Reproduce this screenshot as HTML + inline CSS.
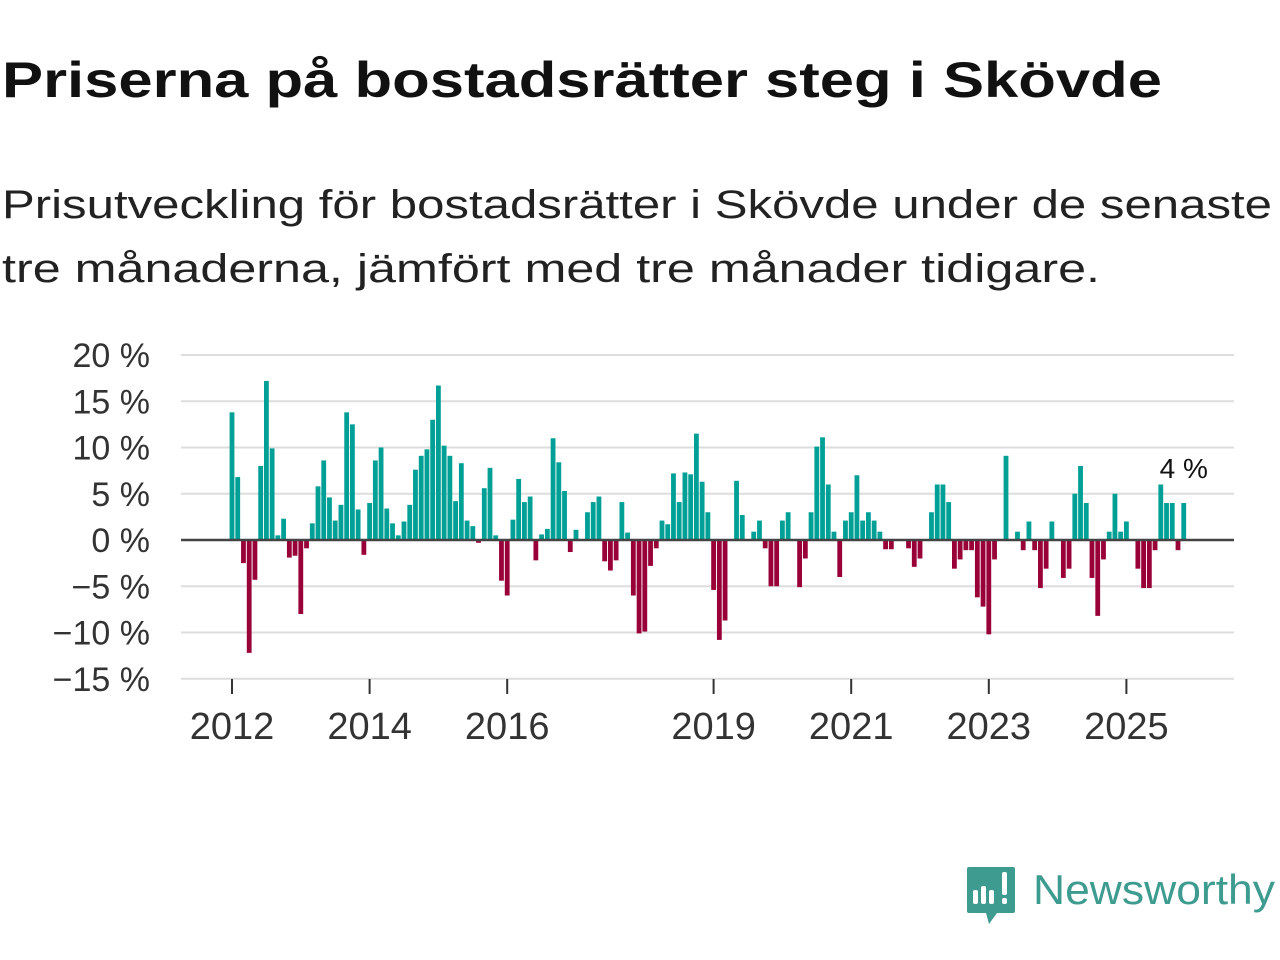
<!DOCTYPE html>
<html><head><meta charset="utf-8"><style>
html,body{margin:0;padding:0;background:#fff;}
svg{display:block;font-family:"Liberation Sans","DejaVu Sans",sans-serif;}
</style></head><body>
<svg id="chart" width="1280" height="960" viewBox="0 0 1280 960">
<text x="2" y="97" font-size="50" font-weight="bold" fill="#111" textLength="1160" lengthAdjust="spacingAndGlyphs">Priserna på bostadsrätter steg i Skövde</text>
<text x="2" y="218" font-size="40" fill="#222" textLength="1270" lengthAdjust="spacingAndGlyphs">Prisutveckling för bostadsrätter i Skövde under de senaste</text>
<text x="2" y="282" font-size="40" fill="#222" textLength="1098" lengthAdjust="spacingAndGlyphs">tre månaderna, jämfört med tre månader tidigare.</text>
<g id="grid"></g>
<g id="yaxis"></g>
<g id="xaxis"></g>
<g id="bars"></g>
<line id="zero" stroke="#444" stroke-width="2.5"></line>
<text id="lastlabel" font-size="28" fill="#111" text-anchor="middle"></text>
<g>
<path d="M969 867 h44 a2 2 0 0 1 2 2 v42 a2 2 0 0 1 -2 2 h-16 l-8 11 l-3 -11 h-17 a2 2 0 0 1 -2 -2 v-42 a2 2 0 0 1 2 -2z" fill="#3d9b8f"/>
<rect x="973" y="890" width="5" height="14" rx="2" fill="#fff"/>
<rect x="981" y="886" width="5" height="18" rx="2" fill="#fff"/>
<rect x="989" y="890" width="5" height="14" rx="2" fill="#fff"/>
<rect x="1002" y="872" width="5" height="23" rx="2" fill="#fff"/>
<rect x="1002" y="898" width="5" height="6" rx="2" fill="#fff"/>
<text x="1033" y="904" font-size="42" fill="#3d9b8f" textLength="242" lengthAdjust="spacingAndGlyphs">Newsworthy</text>
</g>
</svg>
<script>
const values = [13.8,6.8,-2.5,-12.2,-4.3,8.0,17.2,9.9,0.5,2.3,-1.9,-1.7,-8.0,-0.9,1.8,5.8,8.6,4.6,2.1,3.8,13.8,12.5,3.3,-1.6,4.0,8.6,10.0,3.4,1.8,0.5,2.0,3.8,7.6,9.1,9.8,13.0,16.7,10.2,9.1,4.2,8.3,2.1,1.5,-0.3,5.6,7.8,0.5,-4.4,-6.0,2.2,6.6,4.1,4.7,-2.2,0.6,1.2,11.0,8.4,5.3,-1.3,1.1,0,3.0,4.1,4.7,-2.3,-3.3,-2.2,4.1,0.8,-6.0,-10.1,-9.9,-2.8,-0.9,2.1,1.7,7.2,4.1,7.3,7.1,11.5,6.3,3.0,-5.4,-10.8,-8.7,0,6.4,2.7,0,0.9,2.1,-0.9,-5.0,-5.0,2.1,3.0,0,-5.1,-2.0,3.0,10.1,11.1,6.0,0.9,-4.0,2.1,3.0,7.0,2.1,3.0,2.1,0.9,-1.0,-1.0,0,0,-0.9,-2.9,-2.0,0,3.0,6.0,6.0,4.1,-3.1,-2.1,-1.1,-1.1,-6.2,-7.2,-10.2,-2.1,0,9.1,0,0.9,-1.1,2.0,-1.1,-5.2,-3.1,2.0,0,-4.1,-3.1,5.0,8.0,4.0,-4.1,-8.2,-2.1,0.9,5.0,0.9,2.0,0,-3.1,-5.2,-5.2,-1.1,6.0,4.0,4.0,-1.1,4.0];
const startYear = 2012;
const yTicks = [20,15,10,5,0,-5,-10,-15];
const yTickLabels = ["20 %","15 %","10 %","5 %","0 %","\u22125 %","\u221210 %","\u221215 %"];
const xTickYears = [2012,2014,2016,2019,2021,2023,2025];
const lastLabel = "4 %";

const NS = "http://www.w3.org/2000/svg";
const pxPerMonth = 68.8/12;
const x = m => 232 + m*pxPerMonth;
const y = v => 540 - v*9.25;
const mk = (tag, attrs, parent) => { const e = document.createElementNS(NS, tag); for (const k in attrs) e.setAttribute(k, attrs[k]); parent.appendChild(e); return e; };

const grid = document.getElementById('grid');
const yaxis = document.getElementById('yaxis');
yTicks.forEach((t,i) => {
  const l = mk('line', {x1:181, x2:1234, y1:y(t), y2:y(t), stroke:'#ddd', 'stroke-width':2}, grid);
  
  
  const lab = mk('text', {x:150, y:y(t)+12, 'font-size':34, fill:'#333', 'text-anchor':'end'}, yaxis);
  lab.textContent = yTickLabels[i];
  
  
});
const xaxis = document.getElementById('xaxis');
xTickYears.forEach(yr => {
  const xx = x((yr-startYear)*12);
  const t = mk('line', {x1:xx, x2:xx, y1:679, y2:694, stroke:'#333', 'stroke-width':2}, xaxis);
  
  
  const lab = mk('text', {x:xx, y:739, 'font-size':38, fill:'#333', 'text-anchor':'middle'}, xaxis);
  lab.textContent = yr;
  
  
});
const bars = document.getElementById('bars');
values.forEach((v,i) => {
  if (v === 0) return;
  const top = Math.min(y(v), y(0)), h = Math.abs(y(v)-y(0));
  const r = mk('rect', {x:x(i)-2.4, y:top, width:4.8, height:h, fill: v>0 ? '#00a096' : '#990038'}, bars);
  
  
});
const z = document.getElementById('zero');
z.setAttribute('x1', 181); z.setAttribute('x2', 1234); z.setAttribute('y1', y(0)); z.setAttribute('y2', y(0));
const ll = document.getElementById('lastlabel');
const li = values.length-1;
ll.setAttribute('x', x(li)); ll.setAttribute('y', y(values[li]) - 25);
ll.textContent = lastLabel;
</script>
</body></html>
